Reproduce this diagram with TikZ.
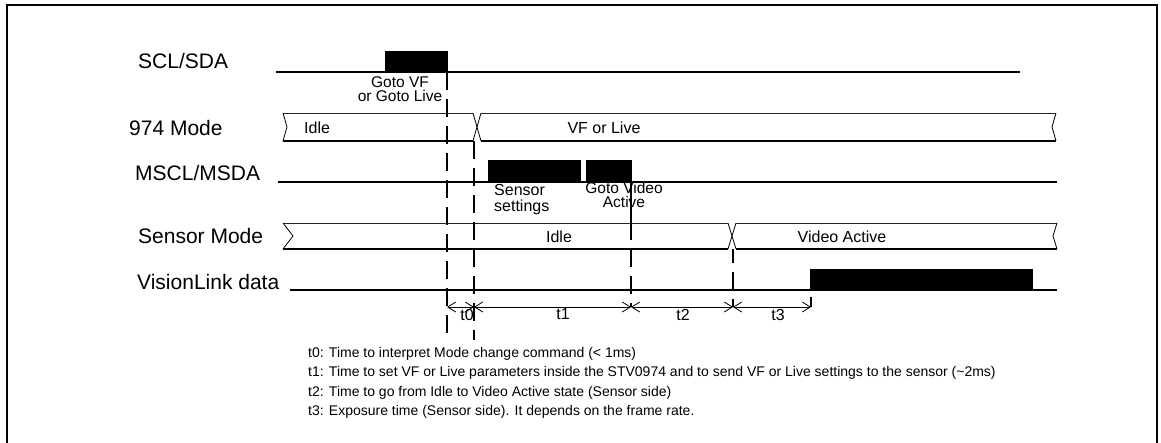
\documentclass[tikz,border=0pt]{standalone}
\usepackage{fontspec}
\setmainfont{Liberation Sans}
\usetikzlibrary{arrows.meta}
\begin{document}
\begin{tikzpicture}[x=1pt,y=-1pt,
  sig/.style={line width=1.6pt},
  bustop/.style={line width=0.8pt, draw=black!85},
  busbot/.style={line width=1.6pt},
  busedge/.style={line width=0.8pt, line join=miter},
  blk/.style={fill=black, draw=none, inner sep=0pt, anchor=south west},
  dashv/.style={line width=1.6pt, dash pattern=on 18pt off 9pt},
  siglabel/.style={font=\fontsize{21}{24}\selectfont, anchor=west, inner sep=0pt},
  bustext/.style={font=\fontsize{16}{18}\selectfont, inner sep=0pt},
  small/.style={font=\fontsize{15.5}{13.5}\selectfont, inner sep=0pt, align=center},
  note/.style={font=\fontsize{14}{19}\selectfont, anchor=base west, inner sep=0pt},
  dim/.style={line width=0.8pt, {Straight Barb[length=8pt,width=10pt]}-{Straight Barb[length=8pt,width=10pt]}},
]
\useasboundingbox (0,0) rectangle (1161,442);
% frame
\coordinate (fbl) at (7,443);
\coordinate (ftl) at (7,5);
\coordinate (ftr) at (1157,5);
\coordinate (fbr) at (1157,443);
\draw[line width=2pt] (fbl) -- (ftl) -- (ftr) -- (fbr);

% signal labels
\node[siglabel] (lscl) at (138,61) {SCL/SDA};
\node[siglabel] (lmode) at (129,128) {974 Mode};
\node[siglabel] (lmscl) at (135,173) {MSCL/MSDA};
\node[siglabel] (lsens) at (138,236) {Sensor Mode};
\node[siglabel] (lvl) at (137,282) {VisionLink data};

% SCL/SDA
\coordinate (scl0) at (276,72);
\coordinate (scl1) at (1020,72);
\draw[sig] (scl0) -- (scl1);
\node[blk, minimum width=63pt, minimum height=21pt] (bscl) at (385,72) {};
\node[small] (tgoto) at (400,89) {Goto VF\\or Goto Live};

% 974 Mode bus
\draw[bustop] (283,113) -- (473,113);
\draw[busbot] (283,141) -- (473,141);
\draw[busedge] (283,113) -- (287,127) -- (283,141);
\draw[busedge] (473,113) -- (477,127) -- (473,141);
\draw[busedge] (481,113) -- (477,127) -- (481,141);
\draw[bustop] (481,113) -- (1056,113);
\draw[busbot] (481,141) -- (1056,141);
\draw[busedge] (1056,113) -- (1052,127) -- (1056,141);
\node[bustext, anchor=west] (tidle1) at (304,128) {Idle};
\node[bustext] (tvf) at (604,128) {VF or Live};

% MSCL/MSDA
\coordinate (ms0) at (278,182);
\coordinate (ms1) at (1057,182);
\draw[sig] (ms0) -- (ms1);
\node[blk, minimum width=93pt, minimum height=22pt] (bms1) at (488,182) {};
\node[blk, minimum width=46pt, minimum height=22pt] (bms2) at (586,182) {};
\node[font=\fontsize{16}{16}\selectfont, inner sep=0pt, anchor=west, align=left] (tsens) at (494,200) {Sensor\\settings};
\node[font=\fontsize{15.5}{14}\selectfont, inner sep=0pt, align=center] (tgv) at (624,195) {Goto Video\\Active};

% Sensor Mode bus
\draw[bustop] (283,223) -- (728,223);
\draw[busbot] (283,249) -- (728,249);
\draw[busedge] (283,223) -- (293,236) -- (283,249);
\draw[busedge] (728,223) -- (732,236) -- (728,249);
\draw[busedge] (736,223) -- (732,236) -- (736,249);
\draw[bustop] (736,223) -- (1057,223);
\draw[busbot] (736,249) -- (1057,249);
\draw[busedge] (1057,223) -- (1053,236) -- (1057,249);
\node[bustext] (tidle2) at (559,237) {Idle};
\node[bustext] (tva) at (842,237) {Video Active};

% VisionLink data
\coordinate (vl0) at (290,290);
\coordinate (vl1) at (1057,290);
\draw[sig] (vl0) -- (vl1);
\node[blk, minimum width=223pt, minimum height=21pt] (bvl) at (810,290) {};

% vertical markers
\coordinate (m0a) at (447,72);   \coordinate (m0b) at (447,340);
\coordinate (m1a) at (474,141);  \coordinate (m1b) at (474,340);
\coordinate (m2a) at (631,182);  \coordinate (m2m) at (631,222); \coordinate (m2b) at (631,307);
\coordinate (m3a) at (733,249);  \coordinate (m3b) at (733,307);
\coordinate (m4a) at (811,297);  \coordinate (m4b) at (811,307);
\draw[dashv] (m0a) -- (m0b);
\draw[dashv] (m1a) -- (m1b);
\draw[line width=1.6pt] (m2a) -- (m2m);
\draw[dashv] (m2m) -- (m2b);
\draw[dashv, dash phase=4pt] (m3a) -- (m3b);
\draw[line width=1.6pt] (m4a) -- (m4b);

% time arrows
\coordinate (d0) at (447,307);
\coordinate (d1) at (474,307);
\coordinate (d2) at (631,307);
\coordinate (d3) at (733,307);
\coordinate (d4) at (811,307);
\draw[dim] (d0) -- (d1);
\draw[dim] (d1) -- (d2);
\draw[dim] (d2) -- (d3);
\draw[dim] (d3) -- (d4);
\node[bustext] (lt0) at (467,315) {t0};
\node[bustext] (lt1) at (563,314) {t1};
\node[bustext] (lt2) at (683,315) {t2};
\node[bustext] (lt3) at (778,315) {t3};

% notes
\node[note] (n0) at (308,357) {t0: Time to interpret Mode change command (< 1ms)};
\node[note] (n1) at (308,376) {t1: Time to set VF or Live parameters inside the STV0974 and to send VF or Live settings to the sensor (\textasciitilde 2ms)};
\node[note] (n2) at (308,396) {t2: Time to go from Idle to Video Active state (Sensor side)};
\node[note] (n3) at (308,415) {t3: Exposure time (Sensor side). It depends on the frame rate.};
\end{tikzpicture}
\end{document}
